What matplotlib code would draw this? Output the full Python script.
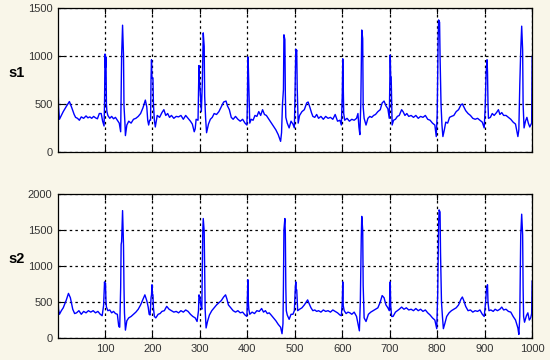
import matplotlib
matplotlib.use('Agg')
import matplotlib.pyplot as plt

# s1 vertices (sample index, value)
s1_x = [0, 2, 4, 8, 12, 18, 25, 30, 35, 38, 42, 46, 50, 55, 60, 64, 68, 72, 76, 80,
        84, 88, 92, 95, 98, 99, 100, 101, 102, 103, 104, 106, 110, 114, 118, 122, 126, 130, 133, 134,
        135, 137, 139, 140, 142, 143, 146, 150, 155, 160, 165, 170, 175, 180, 185, 188, 190, 192, 194, 196,
        197, 198, 199, 201, 202, 204, 206, 210, 215, 220, 224, 228, 232, 236, 240, 245, 250, 255, 260, 265,
        270, 275, 280, 284, 288, 290, 292, 296, 298, 299, 301, 303, 305, 307, 309, 310, 312, 314, 318, 322,
        326, 330, 335, 340, 345, 350, 355, 358, 362, 366, 370, 375, 380, 385, 390, 395, 399, 400, 401, 402,
        403, 404, 405, 408, 412, 416, 420, 424, 428, 432, 436, 440, 444, 448, 452, 456, 460, 465, 470, 472,
        474, 476, 477, 479, 480, 481, 484, 488, 492, 496, 499, 500, 502, 503, 504, 505, 507, 510, 515, 520,
        525, 528, 532, 535, 538, 542, 546, 550, 555, 560, 565, 570, 575, 580, 585, 590, 595, 598, 600, 601,
        602, 603, 605, 610, 615, 620, 625, 630, 633, 635, 637, 639, 641, 643, 644, 646, 650, 654, 658, 662,
        666, 670, 675, 680, 684, 688, 692, 696, 699, 700, 701, 702, 703, 704, 705, 708, 712, 716, 720, 725,
        728, 732, 736, 740, 745, 750, 755, 760, 765, 770, 775, 780, 785, 790, 795, 798, 800, 802, 803, 805,
        806, 808, 810, 812, 815, 818, 822, 826, 830, 835, 840, 845, 850, 853, 856, 860, 865, 870, 875, 880,
        885, 890, 895, 899, 901, 903, 905, 906, 907, 908, 912, 916, 920, 925, 929, 932, 936, 940, 945, 950,
        955, 960, 965, 970, 972, 974, 976, 978, 980, 981, 983, 986, 989, 992, 995, 997, 999, 1000]
s1_y = [950, 480, 340, 380, 420, 470, 525, 460, 390, 360, 350, 330, 365, 350, 375, 355, 365, 350, 370, 355,
        345, 400, 400, 320, 270, 500, 1020, 880, 990, 500, 420, 380, 350, 370, 345, 360, 330, 300, 210, 600,
        1000, 1320, 1000, 480, 300, 170, 280, 320, 300, 340, 350, 370, 400, 460, 540, 470, 330, 280, 330, 330,
        770, 960, 770, 770, 500, 330, 260, 380, 360, 410, 440, 380, 400, 360, 380, 350, 370, 365, 380, 340,
        380, 350, 320, 290, 210, 240, 340, 330, 900, 750, 600, 420, 700, 1240, 1100, 580, 350, 200, 290, 340,
        360, 400, 390, 420, 470, 520, 530, 480, 440, 360, 340, 370, 340, 320, 340, 300, 280, 500, 990, 890,
        680, 500, 300, 340, 330, 380, 370, 420, 380, 440, 390, 380, 350, 320, 290, 260, 230, 180, 110, 200,
        500, 650, 1220, 1170, 600, 360, 300, 250, 320, 290, 250, 500, 1070, 1040, 1060, 670, 300, 380, 420, 440,
        510, 520, 460, 410, 370, 360, 390, 350, 370, 340, 370, 350, 360, 340, 390, 320, 330, 280, 600, 970,
        700, 400, 330, 350, 320, 340, 330, 350, 400, 260, 180, 500, 1270, 1180, 470, 350, 280, 350, 370, 360,
        380, 390, 420, 440, 510, 530, 480, 450, 350, 650, 1010, 780, 780, 500, 280, 330, 340, 370, 380, 440,
        420, 380, 400, 370, 380, 360, 380, 350, 370, 360, 380, 340, 330, 300, 280, 160, 400, 1200, 1375, 1350,
        1000, 500, 280, 160, 230, 310, 300, 360, 370, 380, 420, 440, 490, 500, 470, 430, 400, 380, 350, 340,
        350, 330, 310, 250, 450, 820, 960, 830, 500, 350, 360, 400, 380, 410, 440, 390, 410, 380, 380, 360,
        340, 310, 290, 160, 230, 700, 1060, 1310, 1060, 500, 250, 320, 360, 300, 260, 280, 300, 990]

# s2 vertices (sample index, value)
s2_x = [0, 2, 4, 8, 12, 18, 23, 27, 32, 36, 40, 45, 50, 55, 60, 65, 70, 75, 80, 85,
        90, 94, 97, 99, 100, 101, 102, 103, 106, 110, 114, 118, 122, 126, 129, 131, 133, 134, 135, 137,
        139, 140, 141, 143, 146, 150, 155, 160, 165, 170, 175, 180, 184, 188, 191, 193, 195, 197, 198, 199,
        200, 201, 202, 204, 207, 212, 216, 220, 225, 230, 235, 240, 245, 250, 255, 260, 265, 270, 275, 280,
        285, 290, 294, 297, 298, 300, 302, 304, 305, 306, 307, 309, 310, 311, 313, 316, 320, 325, 330, 335,
        340, 345, 350, 354, 357, 360, 365, 370, 375, 380, 385, 390, 395, 399, 401, 402, 403, 405, 410, 415,
        420, 425, 430, 434, 438, 442, 446, 450, 455, 460, 465, 470, 473, 475, 476, 477, 479, 480, 481, 482,
        484, 488, 492, 496, 499, 501, 502, 503, 504, 506, 510, 515, 520, 524, 527, 530, 534, 538, 542, 546,
        550, 555, 560, 565, 570, 575, 580, 585, 590, 595, 598, 600, 601, 602, 604, 608, 612, 616, 620, 625,
        630, 633, 636, 638, 640, 641, 643, 644, 646, 650, 655, 660, 665, 670, 675, 680, 684, 688, 692, 696,
        699, 701, 702, 704, 707, 712, 716, 720, 725, 730, 735, 740, 745, 750, 755, 760, 765, 770, 775, 780,
        785, 790, 795, 799, 801, 803, 804, 806, 807, 809, 811, 813, 816, 820, 825, 830, 835, 840, 845, 850,
        853, 856, 860, 865, 870, 875, 880, 885, 890, 895, 899, 902, 904, 906, 907, 909, 913, 918, 922, 927,
        932, 936, 940, 945, 950, 955, 960, 965, 970, 972, 974, 976, 978, 980, 981, 982, 984, 988, 991, 994,
        997, 999, 1000]
s2_y = [740, 400, 330, 380, 420, 520, 620, 560, 400, 340, 350, 380, 330, 370, 350, 380, 360, 380, 350, 370,
        330, 310, 450, 780, 700, 760, 520, 430, 380, 390, 350, 370, 340, 330, 160, 150, 700, 1300, 1340, 1770,
        1280, 700, 350, 110, 240, 280, 300, 330, 360, 400, 460, 540, 600, 520, 430, 330, 320, 560, 600, 740,
        600, 600, 420, 300, 280, 330, 340, 370, 380, 440, 400, 380, 360, 370, 350, 380, 360, 390, 370, 330,
        300, 280, 230, 380, 600, 560, 450, 400, 920, 1480, 1660, 1480, 920, 400, 140, 230, 320, 380, 420, 460,
        490, 520, 570, 600, 540, 460, 420, 380, 360, 380, 350, 360, 320, 300, 810, 500, 400, 330, 360, 340,
        380, 370, 410, 360, 380, 340, 350, 320, 280, 240, 190, 150, 60, 200, 740, 1500, 1660, 1450, 700, 380,
        320, 260, 330, 330, 380, 700, 780, 670, 670, 380, 400, 420, 460, 500, 530, 480, 420, 380, 390, 370,
        380, 360, 390, 370, 380, 360, 390, 370, 350, 320, 310, 500, 780, 450, 380, 340, 360, 350, 330, 360,
        300, 200, 100, 500, 1400, 1690, 1500, 730, 280, 230, 330, 360, 380, 400, 420, 500, 590, 560, 460, 420,
        380, 780, 450, 300, 300, 360, 380, 400, 430, 400, 420, 390, 400, 380, 410, 380, 400, 370, 390, 350,
        320, 280, 250, 130, 600, 1600, 1780, 1750, 1180, 500, 300, 130, 200, 300, 350, 380, 400, 420, 460, 540,
        570, 520, 440, 380, 390, 360, 380, 370, 390, 330, 300, 500, 700, 740, 500, 380, 390, 370, 400, 380,
        400, 430, 390, 400, 370, 360, 300, 250, 140, 50, 300, 1430, 1720, 1430, 700, 300, 220, 310, 350, 250,
        280, 340, 790]

x_ticks = [100, 200, 300, 400, 500, 600, 700, 800, 900, 1000]
s1_ticks = [0, 500, 1000, 1500]
s2_ticks = [0, 500, 1000, 1500, 2000]

plt.rcParams['font.family'] = ['Liberation Sans', 'DejaVu Sans']
fig = plt.figure(figsize=(5.5, 3.6), dpi=100)
fig.patch.set_facecolor('#f9f6e9')

ax1 = fig.add_axes([0.1055, 0.578, 0.862, 0.4])
ax2 = fig.add_axes([0.1055, 0.061, 0.862, 0.4])

panels = [(ax1, s1_x, s1_y, s1_ticks, 's1'), (ax2, s2_x, s2_y, s2_ticks, 's2')]
for ax, xs, ys, yt, name in panels:
    ax.plot(xs, ys, color='#0000ff', lw=1.0)
    ax.set_xlim(1, 1000)
    ax.set_ylim(yt[0], yt[-1])
    ax.set_xticks(x_ticks)
    ax.set_yticks(yt)
    ax.grid(True, color='black', linestyle=(0, (2, 2.5)), lw=0.9)
    ax.tick_params(direction='in', length=4, top=True, right=True, pad=4,
                   labelsize=8, labelcolor='#333333', width=0.8)
    for sp in ax.spines.values():
        sp.set_linewidth(0.9)
    ax.set_ylabel(name, rotation=0, fontsize=10.5, fontweight='bold', ha='center', va='center')
    ax.yaxis.set_label_coords(-0.087, 0.55)

ax1.tick_params(labelbottom=False)

fig.savefig('out.png', dpi=100, facecolor=fig.get_facecolor())
